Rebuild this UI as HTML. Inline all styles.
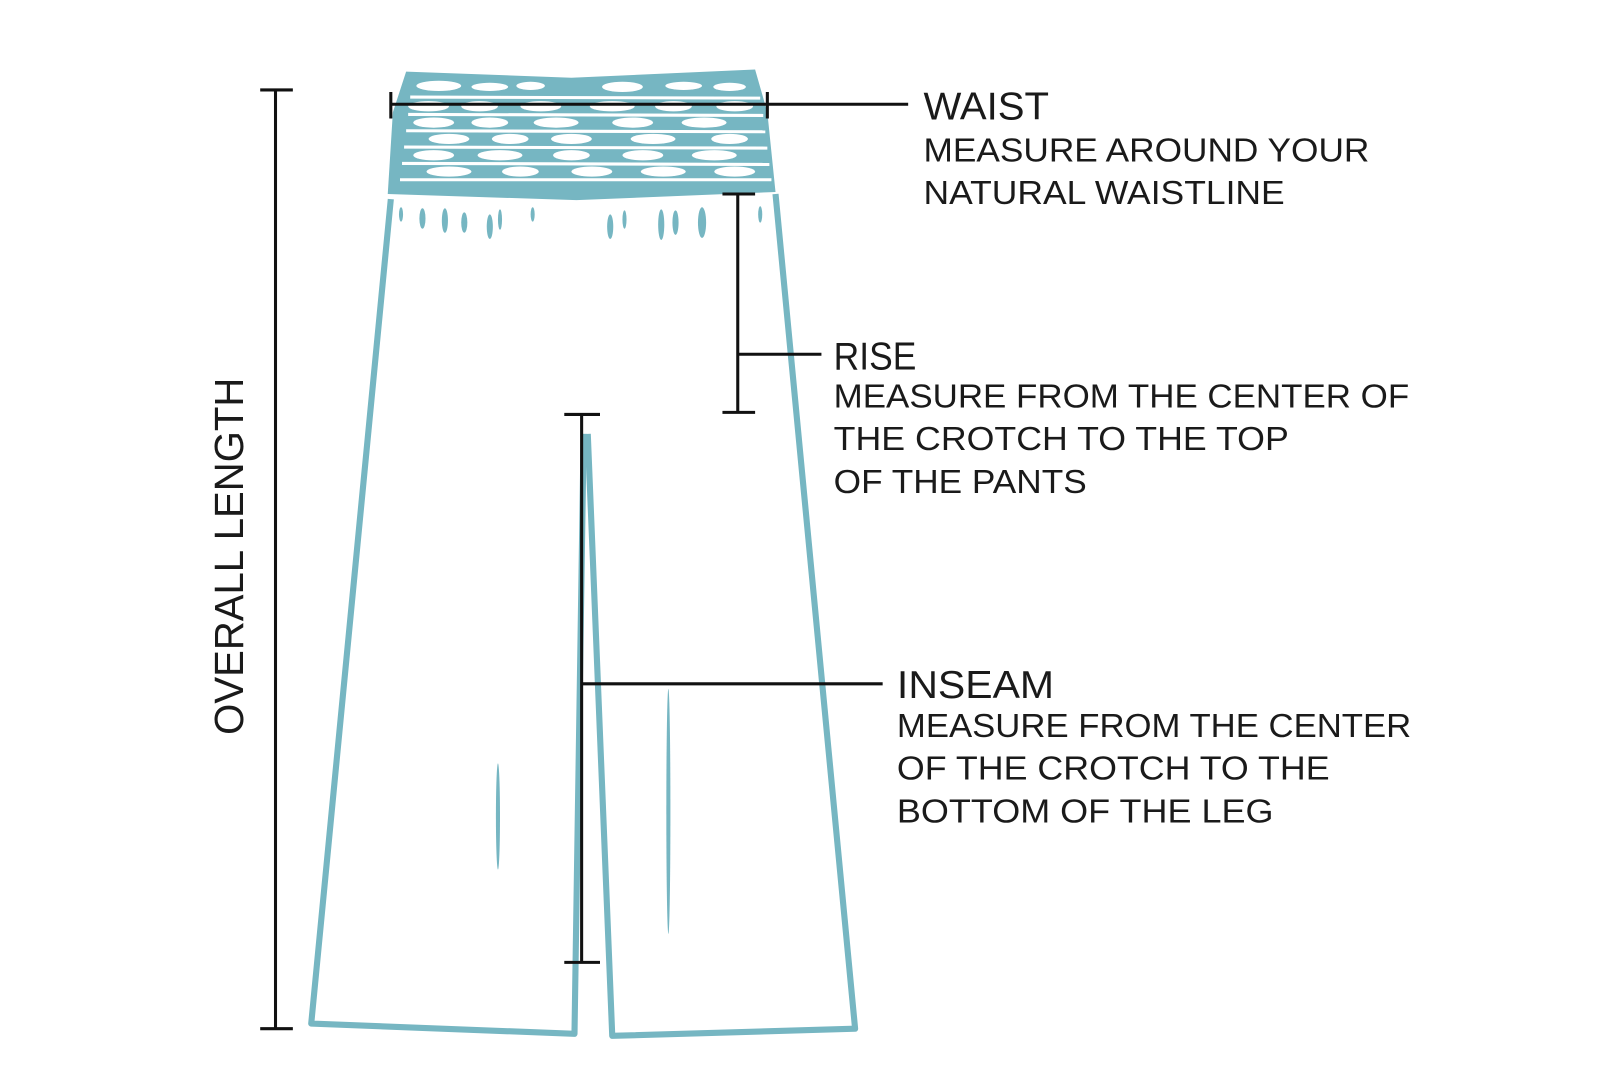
<!DOCTYPE html>
<html><head><meta charset="utf-8"><style>
html,body{margin:0;padding:0;background:#fff;width:1600px;height:1086px;overflow:hidden}
svg{display:block}
text{font-family:"Liberation Sans",sans-serif;fill:#1a1a1a}
</style></head><body>
<svg width="1600" height="1086" viewBox="0 0 1568 1064" xmlns="http://www.w3.org/2000/svg">
<g fill="none" stroke="#76b6c2" stroke-width="6" stroke-linejoin="round">
<path d="M383,195 L305,1003 L563,1013 L572,425"/>
<path d="M576,425 L600,1015 L838,1008 L760,190"/>
</g>
<path d="M398,70 L560,76 L740,68 L752,110 L760,188 L565,196 L380,190 L385,110 Z" fill="#76b6c2"/>
<g stroke="#fff" stroke-width="3" fill="none">
<path d="M402,95 L745,96"/><path d="M400,112 L748,113"/><path d="M398,128 L750,129"/><path d="M396,144 L752,145"/><path d="M394,160 L754,161"/><path d="M392,176 L756,176"/>
</g>
<g fill="#fff">
<ellipse cx="430" cy="84" rx="22" ry="5"/><ellipse cx="480" cy="85" rx="18" ry="4"/><ellipse cx="520" cy="84" rx="14" ry="4"/><ellipse cx="610" cy="85" rx="20" ry="5"/><ellipse cx="670" cy="84" rx="18" ry="4"/><ellipse cx="715" cy="85" rx="16" ry="4"/>
<ellipse cx="420" cy="104" rx="20" ry="5"/><ellipse cx="470" cy="104" rx="18" ry="5"/><ellipse cx="530" cy="104" rx="20" ry="5"/><ellipse cx="600" cy="104" rx="22" ry="5"/><ellipse cx="660" cy="104" rx="18" ry="5"/><ellipse cx="720" cy="104" rx="18" ry="5"/>
<ellipse cx="425" cy="120" rx="20" ry="5"/><ellipse cx="480" cy="120" rx="18" ry="5"/><ellipse cx="545" cy="120" rx="22" ry="5"/><ellipse cx="620" cy="120" rx="20" ry="5"/><ellipse cx="690" cy="120" rx="22" ry="5"/>
<ellipse cx="440" cy="136" rx="20" ry="5"/><ellipse cx="500" cy="136" rx="18" ry="5"/><ellipse cx="560" cy="136" rx="20" ry="5"/><ellipse cx="640" cy="136" rx="22" ry="5"/><ellipse cx="715" cy="136" rx="18" ry="5"/>
<ellipse cx="425" cy="152" rx="20" ry="5"/><ellipse cx="490" cy="152" rx="22" ry="5"/><ellipse cx="560" cy="152" rx="18" ry="5"/><ellipse cx="630" cy="152" rx="20" ry="5"/><ellipse cx="700" cy="152" rx="22" ry="5"/>
<ellipse cx="440" cy="168" rx="22" ry="5"/><ellipse cx="510" cy="168" rx="18" ry="5"/><ellipse cx="580" cy="168" rx="20" ry="5"/><ellipse cx="650" cy="168" rx="22" ry="5"/><ellipse cx="720" cy="168" rx="20" ry="5"/>
</g>
<g fill="#76b6c2">
<ellipse cx="393" cy="210" rx="2" ry="7"/><ellipse cx="414" cy="214" rx="3" ry="10"/><ellipse cx="436" cy="216" rx="3" ry="12"/><ellipse cx="455" cy="218" rx="3" ry="10"/><ellipse cx="480" cy="222" rx="3" ry="12"/><ellipse cx="490" cy="215" rx="2" ry="10"/><ellipse cx="522" cy="210" rx="2" ry="7"/><ellipse cx="598" cy="222" rx="3" ry="12"/><ellipse cx="612" cy="215" rx="2" ry="9"/><ellipse cx="648" cy="220" rx="3" ry="15"/><ellipse cx="662" cy="218" rx="3" ry="12"/><ellipse cx="688" cy="218" rx="4" ry="15"/><ellipse cx="745" cy="210" rx="2" ry="8"/>
<ellipse cx="655" cy="795" rx="2" ry="120"/><ellipse cx="488" cy="800" rx="2" ry="52"/>
</g>
<g stroke="#111" stroke-width="3" fill="none">
<path d="M270,88 V1008 M255,88 H287 M255,1008 H287"/>
<path d="M383,102 H890 M383,90 V116 M752,90 V116"/>
<path d="M723,190 V404 M708,190 H740 M708,404 H740 M723,347 H805"/>
<path d="M570,406 V943 M553,406 H588 M553,943 H588 M570,670 H865"/>
</g>
<text x="0" y="0" font-size="40" transform="translate(238,545) rotate(-90)" text-anchor="middle" textLength="350" lengthAdjust="spacingAndGlyphs">OVERALL LENGTH</text>
<text x="905" y="117" font-size="38" textLength="123" lengthAdjust="spacingAndGlyphs">WAIST</text>
<text x="905" y="158" font-size="33" textLength="437" lengthAdjust="spacingAndGlyphs">MEASURE AROUND YOUR</text>
<text x="905" y="200" font-size="33" textLength="354" lengthAdjust="spacingAndGlyphs">NATURAL WAISTLINE</text>
<text x="817" y="362" font-size="38" textLength="81" lengthAdjust="spacingAndGlyphs">RISE</text>
<text x="817" y="399" font-size="33" textLength="564" lengthAdjust="spacingAndGlyphs">MEASURE FROM THE CENTER OF</text>
<text x="817" y="441" font-size="33" textLength="446" lengthAdjust="spacingAndGlyphs">THE CROTCH TO THE TOP</text>
<text x="817" y="483" font-size="33" textLength="248" lengthAdjust="spacingAndGlyphs">OF THE PANTS</text>
<text x="879" y="684" font-size="38" textLength="154" lengthAdjust="spacingAndGlyphs">INSEAM</text>
<text x="879" y="722" font-size="33" textLength="504" lengthAdjust="spacingAndGlyphs">MEASURE FROM THE CENTER</text>
<text x="879" y="764" font-size="33" textLength="424" lengthAdjust="spacingAndGlyphs">OF THE CROTCH TO THE</text>
<text x="879" y="806" font-size="33" textLength="369" lengthAdjust="spacingAndGlyphs">BOTTOM OF THE LEG</text>
</svg>
</body></html>
